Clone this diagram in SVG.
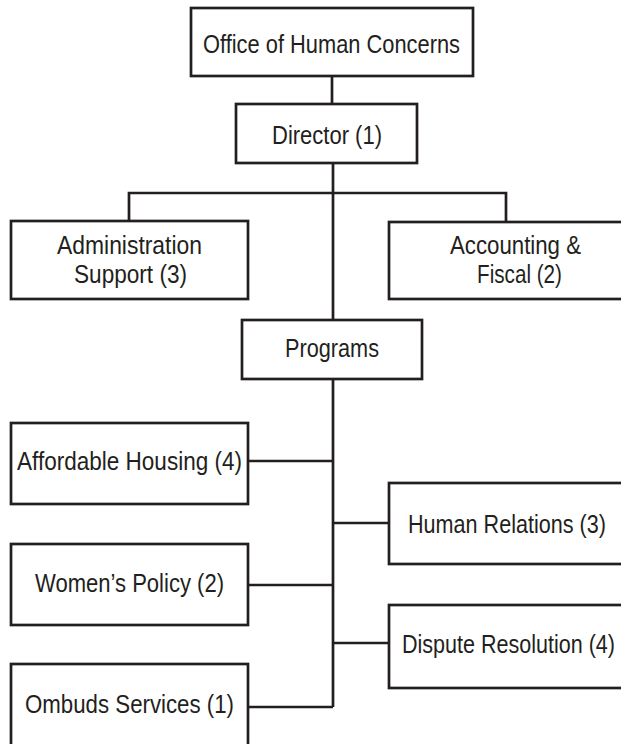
<svg xmlns="http://www.w3.org/2000/svg" width="621" height="744" viewBox="0 0 621 744">
<style>
.box{fill:#fff;stroke:#231f20;stroke-width:2.7}
.ln{fill:none;stroke:#231f20;stroke-width:2.7}
text{font-family:"Liberation Sans Narrow","Liberation Sans",Arial,sans-serif;font-size:26px;fill:#231f20;text-anchor:middle}
</style>
<rect width="621" height="744" fill="#fff"/>
<g id="connectors">
<path class="ln" d="M332,76V104"/>
<path class="ln" d="M333,163V707"/>
<path class="ln" d="M129,221V193H506V222"/>
<path class="ln" d="M248,461H333M248,585H333M248,707H333"/>
<path class="ln" d="M333,523H389M333,643H389"/>
</g>
<g id="office"><rect class="box" x="191" y="8" width="282" height="68"/><text x="331.5" y="53" textLength="257" lengthAdjust="spacingAndGlyphs">Office of Human Concerns</text></g>
<g id="director"><rect class="box" x="236" y="104" width="181" height="59"/><text x="327" y="144" textLength="110" lengthAdjust="spacingAndGlyphs">Director (1)</text></g>
<g id="admin"><rect class="box" x="11" y="221" width="237" height="78"/><text x="129.5" y="254" textLength="145" lengthAdjust="spacingAndGlyphs">Administration</text><text x="130.5" y="283" textLength="113" lengthAdjust="spacingAndGlyphs">Support (3)</text></g>
<g id="accounting"><rect class="box" x="389" y="222" width="236" height="77"/><text x="515.5" y="254" textLength="131" lengthAdjust="spacingAndGlyphs">Accounting &amp;</text><text x="519.5" y="283" textLength="85" lengthAdjust="spacingAndGlyphs">Fiscal (2)</text></g>
<g id="programs"><rect class="box" x="242" y="320" width="180" height="59"/><text x="332" y="357" textLength="94" lengthAdjust="spacingAndGlyphs">Programs</text></g>
<g id="housing"><rect class="box" x="11" y="423" width="237" height="81"/><text x="129.5" y="470" textLength="225" lengthAdjust="spacingAndGlyphs">Affordable Housing (4)</text></g>
<g id="women"><rect class="box" x="11" y="544" width="237" height="81"/><text x="129.5" y="592" textLength="189" lengthAdjust="spacingAndGlyphs">Women’s Policy (2)</text></g>
<g id="ombuds"><rect class="box" x="11" y="664" width="237" height="84"/><text x="129.5" y="713" textLength="209" lengthAdjust="spacingAndGlyphs">Ombuds Services (1)</text></g>
<g id="human"><rect class="box" x="389" y="483" width="236" height="81"/><text x="507" y="533" textLength="198" lengthAdjust="spacingAndGlyphs">Human Relations (3)</text></g>
<g id="dispute"><rect class="box" x="389" y="605" width="236" height="83"/><text x="508.5" y="653" textLength="213" lengthAdjust="spacingAndGlyphs">Dispute Resolution (4)</text></g>
</svg>
